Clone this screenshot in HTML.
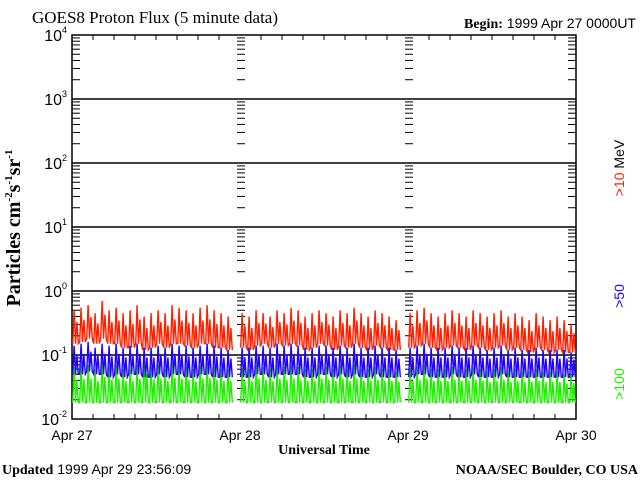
<!DOCTYPE html>
<html><head><meta charset="utf-8"><style>
body{margin:0;background:#fff;width:640px;height:480px;overflow:hidden}
svg text{font-family:"Liberation Sans",sans-serif}
svg text.serif,svg text.title{font-family:"Liberation Serif",serif}
.serif{font-family:"Liberation Serif",serif;font-weight:bold}
</style></head><body>
<svg id="c" width="640" height="480" xmlns="http://www.w3.org/2000/svg">
<text x="32" y="23" class="title" font-size="17">GOES8 Proton Flux (5 minute data)</text>
<text x="636" y="28" text-anchor="end" font-size="14"><tspan class="serif">Begin:</tspan> 1999 Apr 27 0000UT</text>
<text x="324" y="454" text-anchor="middle" class="serif" font-size="14">Universal Time</text>
<text x="2" y="474" font-size="14"><tspan class="serif">Updated</tspan> 1999 Apr 29 23:56:09</text>
<text x="638" y="474" text-anchor="end" class="serif" font-size="14">NOAA/SEC Boulder, CO USA</text>
<text transform="translate(20,228) rotate(-90)" text-anchor="middle" class="serif" font-size="20">Particles cm<tspan font-size="11" dy="-8">-2</tspan><tspan dy="8">s</tspan><tspan font-size="11" dy="-8">-1</tspan><tspan dy="8">sr</tspan><tspan font-size="11" dy="-8">-1</tspan></text>
<text transform="translate(624,168) rotate(-90)" text-anchor="middle" font-size="14"><tspan fill="#ff2000">&gt;10</tspan>  <tspan fill="#000">MeV</tspan></text>
<text transform="translate(624,296) rotate(-90)" text-anchor="middle" font-size="14" fill="#2000ff">&gt;50</text>
<text transform="translate(624,384) rotate(-90)" text-anchor="middle" font-size="14" fill="#20ee00">&gt;100</text>
</svg>
<script>
const yTickExps=[4,3,2,1,0,-1,-2];
const xTickLabels=["Apr 27","Apr 28","Apr 29","Apr 30"];
// hourly max / min of 5-minute flux (null = data gap)
const redHi=[.5,.55,.6,.45,.7,.5,.55,.45,.5,.6,.4,.45,.5,.45,.6,.55,.5,.45,.55,.6,.5,.45,.4,null,
.45,.4,.5,.45,.4,.5,.45,.55,.5,.4,.45,.5,.45,.4,.5,.45,.55,.45,.4,.5,.45,.4,.35,null,
.45,.5,.55,.45,.4,.45,.5,.45,.4,.5,.45,.4,.45,.5,.4,.45,.4,.35,.45,.4,.35,.4,.35,.3];
const redLo=[.15,.16,.18,.15,.18,.15,.15,.13,.13,.15,.12,.13,.15,.13,.15,.15,.14,.13,.15,.15,.13,.13,.12,null,
.13,.12,.14,.15,.13,.15,.14,.15,.14,.12,.13,.15,.14,.12,.14,.13,.15,.13,.12,.14,.13,.12,.12,null,
.13,.14,.15,.13,.12,.13,.14,.13,.12,.14,.13,.12,.13,.14,.12,.13,.12,.11,.13,.12,.11,.12,.11,.11];
const blueHi=[.14,.15,.16,.13,.15,.14,.15,.13,.14,.15,.13,.13,.14,.13,.15,.14,.14,.13,.14,.15,.14,.13,.12,null,
.13,.13,.14,.14,.13,.15,.14,.15,.14,.13,.13,.14,.14,.13,.14,.13,.15,.13,.13,.14,.13,.13,.12,null,
.13,.14,.15,.13,.13,.13,.14,.13,.13,.14,.13,.12,.13,.14,.12,.13,.12,.12,.13,.12,.12,.12,.12,.11];
const blueLo=[.05,.05,.055,.05,.05,.045,.05,.045,.05,.05,.045,.045,.05,.045,.05,.05,.045,.045,.05,.05,.045,.045,.045,null,
.045,.045,.05,.05,.045,.05,.05,.05,.05,.045,.045,.05,.05,.045,.05,.045,.05,.045,.045,.05,.045,.045,.045,null,
.045,.05,.05,.045,.045,.045,.05,.045,.045,.05,.045,.045,.045,.05,.045,.045,.045,.045,.045,.045,.045,.045,.045,.045];
const greenHi=[.065,.07,.07,.06,.08,.065,.07,.06,.06,.07,.1,.065,.07,.06,.075,.07,.065,.06,.07,.075,.065,.06,.06,null,
.06,.06,.07,.065,.06,.07,.065,.07,.065,.06,.06,.07,.065,.06,.07,.06,.07,.06,.06,.065,.06,.06,.055,null,
.06,.065,.07,.06,.06,.06,.065,.06,.06,.065,.06,.055,.06,.065,.055,.06,.055,.055,.06,.055,.055,.055,.05,.05];
const greenLo=[.018,.018,.018,.018,.018,.018,.018,.018,.018,.018,.018,.018,.018,.018,.018,.018,.018,.018,.018,.018,.018,.018,.018,null,
.018,.018,.018,.018,.018,.018,.018,.018,.018,.018,.018,.018,.018,.018,.018,.018,.018,.018,.018,.018,.018,.018,.018,null,
.018,.018,.018,.018,.018,.018,.018,.018,.018,.018,.018,.018,.018,.018,.018,.018,.018,.018,.018,.018,.018,.018,.018,.018];
const svg=document.getElementById('c');const NS='http://www.w3.org/2000/svg';
const L=72,R=576,T=35,B=419;
const x=h=>L+(R-L)*h/72;
const y=v=>B-(B-T)*(Math.log10(v)+2)/6;
function el(t,a,p){const e=document.createElementNS(NS,t);for(const k in a)e.setAttribute(k,a[k]);(p||svg).appendChild(e);return e;}
yTickExps.forEach(e=>{
  const yy=y(Math.pow(10,e));
  if(e<4&&e>-2){const g=el('line',{x1:L,x2:R,y1:yy,y2:yy,stroke:'#000','stroke-width':1.5});
  
  }
  const t=el('text',{x:67,y:yy+6,'text-anchor':'end','font-size':16});
  
  
  t.innerHTML='10<tspan font-size="9" dy="-8">'+e+'</tspan>';
  if(e>-2){for(let m=2;m<10;m++){const yy2=y(m*Math.pow(10,e-1));
    [L,x(24)-3,x(48)-3,R-8].forEach(xx=>el('line',{x1:xx,x2:xx+8,y1:yy2,y2:yy2,stroke:'#000','stroke-width':1}));}}
});
const fr=el('rect',{x:L,y:T,width:R-L,height:B-T,fill:'none',stroke:'#000','stroke-width':1.5});


for(let h=3;h<72;h+=3){if(h%24==0)continue;[[T,T+5],[B-5,B]].forEach(p=>el('line',{x1:x(h),x2:x(h),y1:p[0],y2:p[1],stroke:'#000'}));}
xTickLabels.forEach((s,i)=>{const t=el('text',{x:x(i*24),y:440,'text-anchor':'middle','font-size':14});


t.textContent=s;});
function series(hi,lo,color,name){
  let d='';let pen=false;const sub=5;
  hi.forEach((v,i)=>{if(v==null||lo[i]==null){pen=false;return;}
    for(let k=0;k<sub;k++){
      const h=i+(k+0.5)/sub;
      const val=(k%2==0)?lo[i]:(k%4==1?v:Math.sqrt(v*lo[i])*1.2);
      d+=(pen?'L':'M')+x(h).toFixed(1)+' '+y(val).toFixed(1);pen=true;}
  });
  const p=el('path',{d:d,fill:'none',stroke:color,'stroke-width':1.4});
  
  
}
series(redHi,redLo,'#ff2000','series-gt10-mev');
series(greenHi,greenLo,'#20ee00','series-gt100-mev');
series(blueHi,blueLo,'#2000ff','series-gt50-mev');
</script>
</body></html>
